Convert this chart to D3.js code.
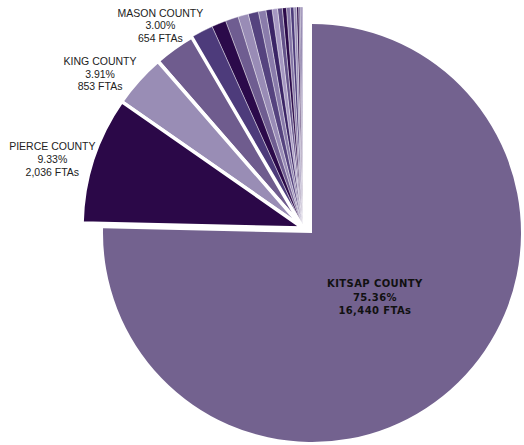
<!DOCTYPE html>
<html>
<head>
<meta charset="utf-8">
<script src="https://cdn.jsdelivr.net/npm/d3@7"></script>
<style>
  body { margin: 0; background: #fff; }
</style>
</head>
<body>
<div id="content"></div>
<script>
var width = 524;
var height = 445;

// FTAs by county (only the four largest are labelled in the chart)
var counties = ['KITSAP COUNTY', 'PIERCE COUNTY', 'KING COUNTY', 'MASON COUNTY',
                'OTHER 1', 'OTHER 2', 'OTHER 3', 'OTHER 4', 'OTHER 5', 'OTHER 6',
                'OTHER 7', 'OTHER 8', 'OTHER 9', 'OTHER 10', 'OTHER 11', 'OTHER 12',
                'OTHER 13', 'OTHER 14', 'OTHER 15', 'OTHER 16', 'OTHER 17'];
var ftas = [16440, 2036, 853, 654,
            360, 229, 207, 164, 164, 120,
            98, 87, 76, 65, 61, 55,
            44, 33, 26, 22, 21];
var colors = ['#73628f', '#2b0848', '#998db5', '#6f5c8e',
              '#4d3b7b', '#2b0a4a', '#6f5d91', '#998cb6', '#55437f', '#8a7cab',
              '#3b2566', '#a698c2', '#64528a', '#2b0a4a', '#8576a6', '#4d3b7b',
              '#9a8db6', '#2b0a4a', '#6f5d91', '#4d3b7b', '#a497c0'];
var labelled = [0, 1, 2, 3];

var total = d3.sum(ftas);
var fmtNum = d3.format(',');
function pct(v) { return (v / total * 100).toFixed(2) + '%'; }

var svg = d3.select('#content').append('svg')
    .attr('width', width)
    .attr('height', height);

var pie = d3.pie().sort(null).value(function(d) { return d; });
var slices = pie(ftas);

// main pie centre, and the exploded Kitsap slice
var cx = 303, cy = 228, r = 221;
var kx = 312, ky = 233, kr = 209;

var arc = d3.arc().innerRadius(0).outerRadius(r);
var kArc = d3.arc().innerRadius(0).outerRadius(kr);

var kitsap = svg.append('g').attr('transform', 'translate(' + kx + ',' + ky + ')');
kitsap.append('path')
    .attr('d', kArc(slices[0]))
    .attr('fill', colors[0]);

var rest = svg.append('g').attr('transform', 'translate(' + cx + ',' + cy + ')');

// small slices first, the big ones on top so their white borders show
var order = d3.range(1, slices.length).reverse();
rest.selectAll('path.slice')
    .data(order).enter()
        .append('path')
            .attr('class', 'slice')
            .attr('d', function(i) { return arc(slices[i]); })
            .attr('fill', function(i) { return colors[i]; })
            .attr('stroke', '#fff')
            .attr('stroke-width', function(i) { return i < 4 ? 3.5 : 0.4; })
            .attr('stroke-linejoin', 'round');

// outside labels
var labelArc = d3.arc().innerRadius(250).outerRadius(250);
var shift = {1: [-13, 9], 2: [-17, 13], 3: [3, 1]};

labelled.slice(1).forEach(function(i) {
    var c = labelArc.centroid(slices[i]);
    var x = cx + c[0] + shift[i][0];
    var y = cy + c[1] + shift[i][1];
    var lines = [counties[i], pct(ftas[i]), fmtNum(ftas[i]) + ' FTAs'];
    var t = svg.append('text')
        .attr('text-anchor', 'middle')
        .attr('font-family', '"Liberation Sans", Arial, sans-serif')
        .attr('font-size', '10.5px')
        .attr('fill', '#222');
    lines.forEach(function(s, k) {
        t.append('tspan')
            .attr('x', x)
            .attr('y', y + (k - 1) * 12.7)
            .attr('dy', '0.35em')
            .text(s);
    });
});

// Kitsap label inside its slice
var inArc = d3.arc().innerRadius(0).outerRadius(180);
var kc = inArc.centroid(slices[0]);
var kt = svg.append('text')
    .attr('text-anchor', 'middle')
    .attr('font-family', '"DejaVu Sans", Verdana, sans-serif')
    .attr('font-weight', 'bold')
    .attr('font-size', '10px')
    .attr('letter-spacing', '0.4px')
    .attr('fill', '#111');
[counties[0], pct(ftas[0]), fmtNum(ftas[0]) + ' FTAs'].forEach(function(s, k) {
    kt.append('tspan')
        .attr('x', kx + kc[0])
        .attr('y', ky + kc[1] + (k - 1) * 13.5)
        .attr('dy', '0.35em')
        .text(s);
});
</script>
</body>
</html>
